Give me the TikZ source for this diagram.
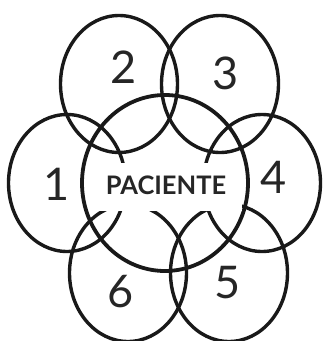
\documentclass[tikz,border=0pt]{standalone}
\usepackage{fontspec}
\setmainfont{Lato}
\usepackage{tikz}
\usetikzlibrary{positioning, shapes.geometric}

\tikzset{
  petal/.style={ellipse, draw=black!90, line width=3.4pt, inner sep=0pt,
    minimum width=117pt, minimum height=137pt},
  hub/.style={ellipse, draw=black!90, line width=3.8pt, inner sep=0pt,
    minimum width=166pt, minimum height=176pt},
  numlabel/.style={font=\fontsize{45}{45}\selectfont, text=black!85, inner sep=0pt},
  namebox/.style={fill=white, inner sep=0pt, minimum width=152pt, minimum height=48pt,
    font=\fontsize{25.5}{25.5}\selectfont\bfseries, text=black!85}
}

\begin{document}
\begin{tikzpicture}[x=1pt, y=-1pt]
\useasboundingbox (0,0) rectangle (323,341);

% outer circles
\foreach \n/\x/\y in {1/67/183, 2/119/84, 3/220/84, 4/262/183, 5/229/273, 6/128/273}
  \node[petal] (c\n) at (\x,\y) {};

% central circle
\node[hub] (hub) at (165,183) {};

% label over the circles
\node[namebox] (name) at (166,187) {\raisebox{4pt}{PACIENTE}};

% numbers
\node[numlabel] (n1) at (57,184) {1};
\node[numlabel] (n2) at (124,67) {2};
\node[numlabel] (n3) at (226,73) {3};
\node[numlabel] (n4) at (274,177) {4};
\node[numlabel] (n5) at (228,283) {5};
\node[numlabel] (n6) at (121,292) {6};
\end{tikzpicture}
\end{document}
